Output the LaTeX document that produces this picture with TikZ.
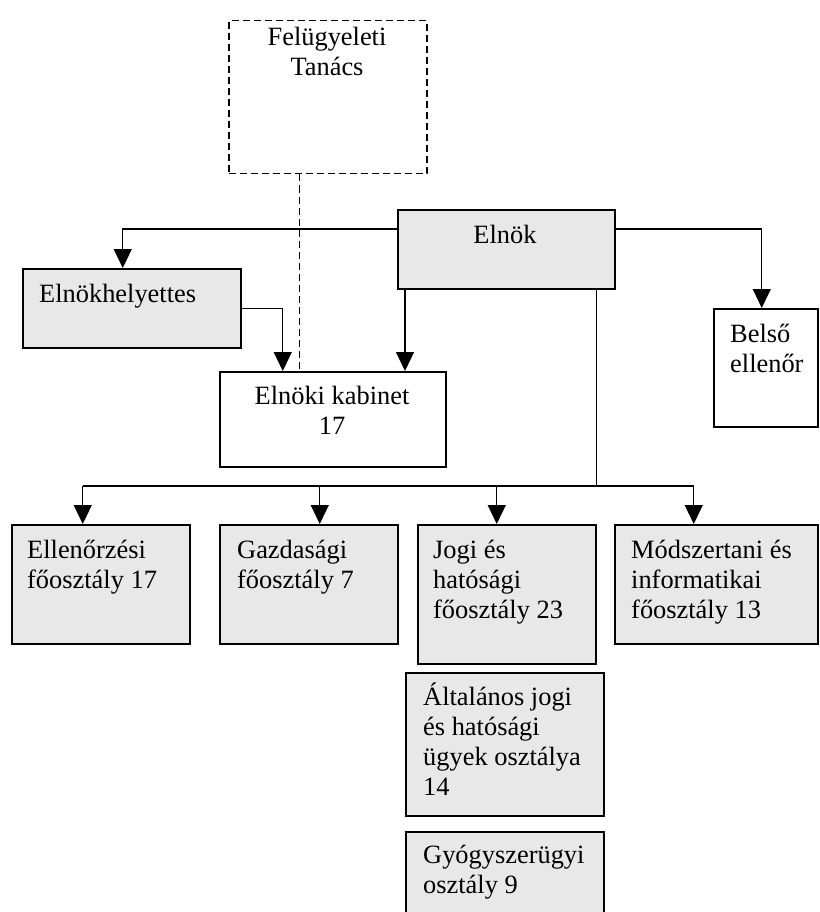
\documentclass[tikz,border=0pt]{standalone}
\usepackage{fontspec}
\setmainfont{Liberation Serif}
\usetikzlibrary{arrows.meta}
\definecolor{boxgray}{RGB}{232,232,232}

\tikzset{
  box/.style={draw,line width=1.5pt,fill=boxgray,inner sep=0pt,anchor=north west},
  wbox/.style={box,fill=white},
  txt/.style={inner sep=0pt,anchor=base west,align=left,font=\fontsize{26.4}{30}\selectfont},
  arr/.style={line width=1.2pt,-{Triangle[length=19pt,width=18pt]}},
  link/.style={line width=1.2pt},
}

\begin{document}
\begin{tikzpicture}[x=1pt,y=-1pt]
\useasboundingbox (0,0) rectangle (819,912);

% Top level boxes
\node[wbox,dashed,dash pattern=on 7pt off 4pt,minimum width=198pt,minimum height=153pt] (ft) at (228,20) {};
\node[box,minimum width=217pt,minimum height=79pt] (elnok) at (397,209) {};
\node[box,minimum width=218pt,minimum height=79pt] (elnokh) at (22,268) {};
\node[wbox,minimum width=226pt,minimum height=95pt] (kabinet) at (219,371) {};
\node[wbox,minimum width=104pt,minimum height=118pt] (belso) at (713,308) {};

% Departments
\node[box,minimum width=178pt,minimum height=119pt] (ellen) at (11,524) {};
\node[box,minimum width=178pt,minimum height=119pt] (gazd) at (219,524) {};
\node[box,minimum width=178pt,minimum height=139pt] (jogi) at (417,524) {};
\node[box,minimum width=203pt,minimum height=119pt] (modsz) at (614,524) {};
\node[box,minimum width=198pt,minimum height=143pt] (altal) at (405,672) {};
\node[box,minimum width=198pt,minimum height=90pt] (gyogy) at (405,831) {};

% Texts (base = last line)
\node[txt,anchor=base,align=center] (ft-t) at (327,76) {Felügyeleti\\Tanács};
\node[txt,anchor=base] (elnok-t) at (505,243) {Elnök};
\node[txt] (elnokh-t) at (39,302) {Elnökhelyettes};
\node[txt,anchor=base,align=center] (kabinet-t) at (332,434) {Elnöki kabinet\\17};
\node[txt] (belso-t) at (730,372) {Belső\\ellenőr};
\node[txt] (ellen-t) at (27,588) {Ellenőrzési\\főosztály 17};
\node[txt] (gazd-t) at (237,588) {Gazdasági\\főosztály 7};
\node[txt] (jogi-t) at (433,618) {Jogi és\\hatósági\\főosztály 23};
\node[txt] (modsz-t) at (631,618) {Módszertani és\\informatikai\\főosztály 13};
\node[txt] (altal-t) at (423,795) {Általános jogi\\és hatósági\\ügyek osztálya\\14};
\node[txt] (gyogy-t) at (423,893) {Gyógyszerügyi\\osztály 9};

% Connections
\draw[link,dash pattern=on 7pt off 4pt] ([xshift=-28pt]ft.south) -- ([xshift=-28pt]ft.south |- kabinet.north);
\draw[arr] ([yshift=-20pt]elnok.north west) -| ([xshift=-9pt]elnokh.north);
\draw[arr] ([yshift=-20pt]elnok.north east) -| ([xshift=-4pt]belso.north);
\draw[arr] (elnokh.east) -| ([xshift=-50pt]kabinet.north);
\draw[arr] ([xshift=8pt]elnok.south west) -- ([xshift=8pt]elnok.south west |- kabinet.north);

% Bus to departments
\coordinate (bus) at (0,486);
\draw[link] ([xshift=-19pt]elnok.south east) -- ([xshift=-19pt]elnok.south east |- bus);
\draw[link] ([xshift=-18pt]ellen.north |- bus) -- ([xshift=-22.5pt]modsz.north |- bus);
\draw[arr] ([xshift=-18pt]ellen.north |- bus) -- ([xshift=-18pt]ellen.north);
\draw[arr] ([xshift=11pt]gazd.north |- bus) -- ([xshift=11pt]gazd.north);
\draw[arr] ([xshift=-10pt]jogi.north |- bus) -- ([xshift=-10pt]jogi.north);
\draw[arr] ([xshift=-22.5pt]modsz.north |- bus) -- ([xshift=-22.5pt]modsz.north);

\end{tikzpicture}
\end{document}
